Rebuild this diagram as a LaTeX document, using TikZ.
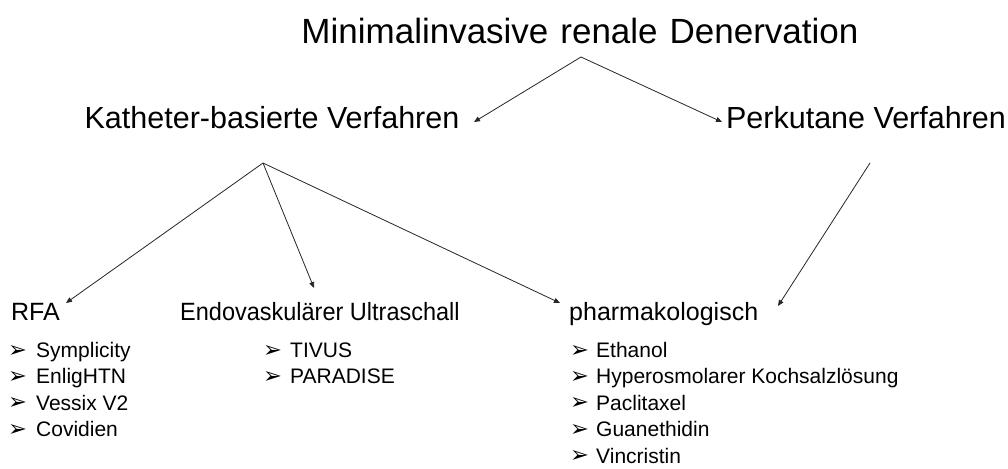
\documentclass[tikz,border=0pt]{standalone}
\usepackage{fontspec}
\setmainfont{Liberation Sans}
\newfontfamily\dvfont{DejaVu Sans}
\usetikzlibrary{arrows.meta,calc}
\newcommand{\bul}[1]{\makebox[#1][l]{\smash{\raisebox{0.5pt}{\dvfont\fontsize{22.5}{22.5}\selectfont ➢}}}}
\begin{document}
\begin{tikzpicture}[x=1pt,y=-1pt,
  t1/.style={inner sep=0pt,anchor=base,font=\fontsize{35}{40}\selectfont},
  t2/.style={inner sep=0pt,anchor=base,font=\fontsize{30.5}{36}\selectfont},
  t3/.style={inner sep=0pt,anchor=base west,font=\fontsize{25}{30}\selectfont},
  itm/.style={inner sep=0pt,anchor=base west,font=\fontsize{21}{26}\selectfont},
  conn/.style={draw=black!85,line width=0.8pt,-{Triangle[length=6pt,width=5pt]}}]
\useasboundingbox (0,0) rectangle (1008,468);
\fill[white] (0,0) rectangle (1008,468);
% headings
\node[t1] (title) at (580,44) {Minimalinvasive\hspace{12pt}renale\hspace{12pt}Denervation};
\node[t2] (kat) at (272,128.5) {Katheter-basierte Verfahren};
\node[t2] (perk) at (866,128.5) {Perkutane Verfahren};
\node[t3] (rfa) at (11,320) {RFA};
\node[t3] (endo) at (180,320) {\scalebox{0.94}[1]{Endovaskulärer Ultraschall}};
\node[t3] (pharm) at (569,320) {pharmakologisch};
% items
\node[itm] (s1) at (8,357.5) {\bul{28pt}Symplicity};
\node[itm] (s2) at (8,383.9) {\bul{28pt}EnligHTN};
\node[itm] (s3) at (8,410.3) {\bul{28pt}Vessix V2};
\node[itm] (s4) at (8,436.7) {\bul{28pt}Covidien};
\node[itm] (u1) at (263,357.5) {\bul{27pt}TIVUS};
\node[itm] (u2) at (263,383.9) {\bul{27pt}PARADISE};
\node[itm] (p1) at (570,357.5) {\bul{26pt}Ethanol};
\node[itm] (p2) at (570,383.9) {\bul{26pt}Hyperosmolarer Kochsalzlösung};
\node[itm] (p3) at (570,410.3) {\bul{26pt}Paclitaxel};
\node[itm] (p4) at (570,436.7) {\bul{26pt}Guanethidin};
\node[itm] (p5) at (570,463.1) {\bul{26pt}Vincristin};
% connector end points
\coordinate (titleS) at (581,57);
\coordinate (katE) at (474,122);
\coordinate (perkW) at (722,122);
\coordinate (katS) at (263,163);
\coordinate (perkS) at (870,163);
\coordinate (rfaE) at (66,303);
\coordinate (endoN) at (314,288);
\coordinate (pharmW) at (560,303);
\coordinate (pharmE) at (778,306);
\draw[conn] (titleS) -- (katE);
\draw[conn] (titleS) -- (perkW);
\draw[conn] (katS) -- (rfaE);
\draw[conn] (katS) -- (endoN);
\draw[conn] (katS) -- (pharmW);
\draw[conn] (perkS) -- (pharmE);
\end{tikzpicture}
\end{document}
